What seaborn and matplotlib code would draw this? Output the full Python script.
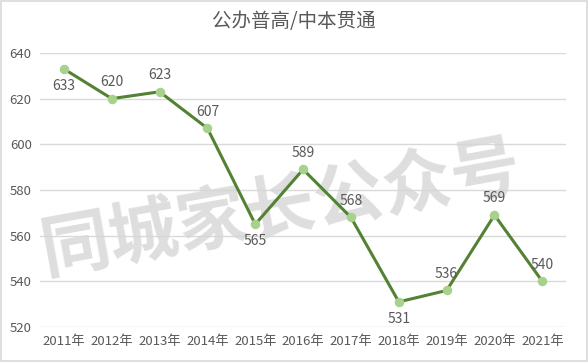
import matplotlib
matplotlib.use("Agg")
import matplotlib.pyplot as plt
import seaborn as sns
import pandas as pd
from matplotlib.patches import Rectangle

years = ["2011年", "2012年", "2013年", "2014年", "2015年", "2016年",
         "2017年", "2018年", "2019年", "2020年", "2021年"]
scores = [633, 620, 623, 607, 565, 589, 568, 531, 536, 569, 540]
label_pos = ["below", "above", "above", "above", "below", "above",
             "above", "below", "above", "above", "above"]
yticks = [520, 540, 560, 580, 600, 620, 640]
title = "公办普高/中本贯通"
watermark = "同城家长公众号"

sns.set_theme(style="white")
plt.rcParams['font.family'] = ['Noto Sans CJK SC', 'DejaVu Sans']

df = pd.DataFrame({"year": years, "score": scores})
df["x"] = range(len(years))

fig = plt.figure(figsize=(5.88, 3.62), dpi=100)
ax = fig.add_axes([0.068, 0.0967, 0.895, 0.757])

text_color = "#595959"

# watermark (inside axes so that labels draw above it)
ax.text(0.478, 0.42, watermark, transform=fig.transFigure, fontsize=50,
        fontweight="bold", color="#D6D6D6", alpha=0.8, rotation=10.3,
        ha="center", va="center", zorder=1, clip_on=False)

for yv in yticks:
    ax.axhline(yv, color="#D9D9D9", lw=1, zorder=0)

sns.lineplot(data=df, x="x", y="score", ax=ax, color="#548235", lw=2.2,
             zorder=3, legend=False)
ax.scatter(df["x"], df["score"], s=34, color="#A9D18E", zorder=4,
           edgecolor="#A9D18E")

for xi, v, p in zip(df["x"], scores, label_pos):
    off = 12 if p == "above" else -12
    ax.annotate(str(v), (xi, v), xytext=(0, off), textcoords="offset points",
                ha="center", va="center", fontsize=10, color=text_color,
                zorder=5)

ax.set_xlim(-0.5, len(years) - 0.5)
ax.set_ylim(520, 640)
ax.set_yticks(yticks)
ax.set_xticks(df["x"])
ax.set_xticklabels(years)
ax.tick_params(axis="both", labelsize=9.5, colors=text_color, length=0, pad=6)
ax.set_xlabel("")
ax.set_ylabel("")
for s in ax.spines.values():
    s.set_visible(False)
ax.patch.set_alpha(0)

fig.text(0.5, 0.94, title, ha="center", va="center", fontsize=14,
         color=text_color)

fig.patches.append(Rectangle((0.001, 0.002), 0.997, 0.995, transform=fig.transFigure,
                             fill=False, edgecolor="#D9D9D9", lw=1.2))

fig.savefig("out.png", dpi=100)
